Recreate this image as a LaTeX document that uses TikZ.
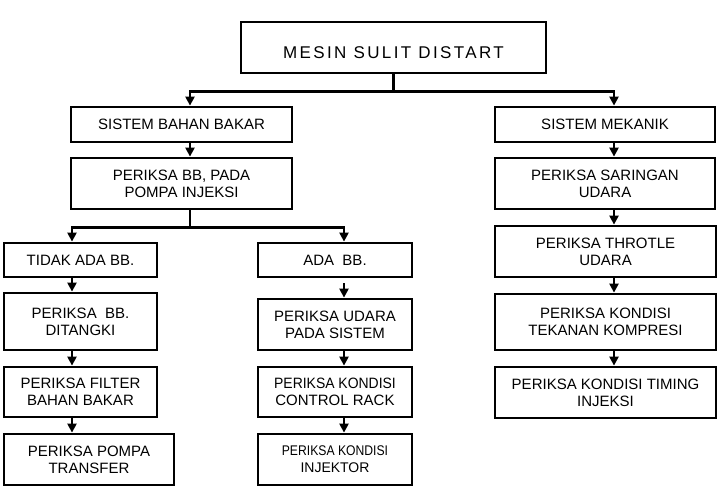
\documentclass[tikz,border=0pt]{standalone}
\usepackage{fontspec}
\setmainfont{Liberation Sans}
\newfontfamily\titlefont{Liberation Sans}[LetterSpace=14]
\newfontfamily\semicond{Liberation Sans}[FakeStretch=0.93]
\newfontfamily\condfont{Liberation Sans}[FakeStretch=0.87]
\usetikzlibrary{arrows.meta}
\begin{document}
\begin{tikzpicture}[x=1pt,y=-1pt,
  box/.style={draw, line width=2.8pt, align=center, inner sep=0pt,
    font=\fontsize{15}{17}\selectfont},
  ln/.style={line width=2.2pt},
  arr/.style={line width=2.2pt, -{Triangle[length=9pt,width=9pt]}}]
\useasboundingbox (0,0) rectangle (722,490);
\node[box, minimum width=305pt, minimum height=51pt, text height=21pt, text depth=0pt,
  font=\titlefont\fontsize{17}{19}\selectfont] (top) at (393.5,47.5) {MESIN SULIT DISTART};
\node[box, minimum width=221pt, minimum height=35pt] (sbb) at (181.5,124.5) {SISTEM BAHAN BAKAR};
\node[box, minimum width=221pt, minimum height=51pt] (pbb) at (181.5,183.5) {PERIKSA BB, PADA\\POMPA INJEKSI};
\node[box, minimum width=220pt, minimum height=35pt] (smk) at (605,124.5) {SISTEM MEKANIK};
\node[box, minimum width=220pt, minimum height=51pt] (psu) at (605,183.5) {PERIKSA SARINGAN\\UDARA};
\node[box, minimum width=221pt, minimum height=51pt] (pth) at (605.5,251.5) {PERIKSA THROTLE\\UDARA};
\node[box, minimum width=221pt, minimum height=56pt] (pkt) at (605.5,322) {PERIKSA KONDISI\\TEKANAN KOMPRESI};
\node[box, minimum width=221pt, minimum height=51pt] (pti) at (605.5,392.5) {PERIKSA KONDISI TIMING\\INJEKSI};
\node[box, minimum width=153pt, minimum height=34pt] (tdk) at (80.5,260) {TIDAK ADA BB.};
\node[box, minimum width=153pt, minimum height=57pt] (pdt) at (80.5,321.5) {PERIKSA\ \ BB.\\DITANGKI};
\node[box, minimum width=153pt, minimum height=50pt] (pfl) at (80.5,392) {PERIKSA FILTER\\BAHAN BAKAR};
\node[box, minimum width=170pt, minimum height=51pt] (ppt) at (89,459.5) {PERIKSA POMPA\\TRANSFER};
\node[box, minimum width=154pt, minimum height=34pt] (ada) at (335,260) {ADA\ \ BB.};
\node[box, minimum width=154pt, minimum height=51pt] (pud) at (335,324.5) {PERIKSA UDARA\\PADA SISTEM};
\node[box, minimum width=154pt, minimum height=50pt] (pkc) at (335,392) {{\semicond PERIKSA KONDISI}\\CONTROL RACK};
\node[box, minimum width=154pt, minimum height=51pt, font=\fontsize{14}{17}\selectfont] (pki) at (335,459.5) {{\condfont PERIKSA KONDISI}\\INJEKTOR};
% column x positions of the connectors
\coordinate (xa) at (190,0);
\coordinate (xr) at (614,0);
\coordinate (xl) at (72,0);
\coordinate (xm) at (344,0);
% top level
\draw[ln] (top.south) -- ++(0,17) coordinate (j1);
\draw[arr] (j1) -| (sbb.north -| xa);
\draw[arr] (j1) -| (smk.north -| xr);
% fuel branch
\draw[arr] (sbb.south -| xa) -- (pbb.north -| xa);
\draw[ln] (pbb.south -| xa) -- ++(0,17) coordinate (j2);
\draw[arr] (j2) -| (tdk.north -| xl);
\draw[arr] (j2) -| (ada.north -| xm);
% left column
\draw[arr] (tdk.south -| xl) -- (pdt.north -| xl);
\draw[arr] (pdt.south -| xl) -- (pfl.north -| xl);
\draw[arr] (pfl.south -| xl) -- (ppt.north -| xl);
% middle column
\draw[arr] ([yshift=-5pt]ada.south -| xm) -- (pud.north -| xm);
\draw[arr] (pud.south -| xm) -- (pkc.north -| xm);
\draw[arr] (pkc.south -| xm) -- (pki.north -| xm);
% right column
\draw[arr] (smk.south -| xr) -- (psu.north -| xr);
\draw[arr] (psu.south -| xr) -- (pth.north -| xr);
\draw[arr] (pth.south -| xr) -- (pkt.north -| xr);
\draw[arr] (pkt.south -| xr) -- (pti.north -| xr);
\end{tikzpicture}
\end{document}
